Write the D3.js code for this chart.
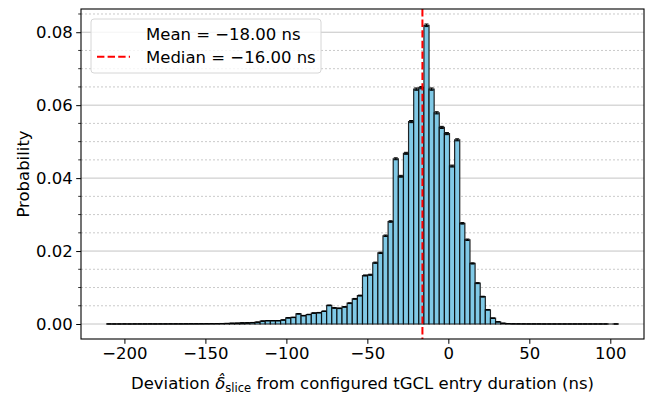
<!DOCTYPE html>
<html>
<head>
<meta charset="utf-8">
<script src="https://cdn.jsdelivr.net/npm/d3@7"></script>
<style>
  body { margin: 0; background: #fff; }
  text { font-family: "DejaVu Sans", sans-serif; fill: #000; }
</style>
</head>
<body>
<script>
// histogram range and bin probabilities (100 bins)
const binLo = -211;
const binHi = 105;
const probs = [
  0.00002, 0.00001, 0.00001, 0.00002, 0.00001, 0.00002, 0.00002, 0.00002, 0.00003, 0.00002,
  0.00003, 0.00003, 0.00004, 0.00004, 0.00004, 0.00005, 0.00006, 0.00006, 0.00007, 0.00008,
  0.00009, 0.00010, 0.00012, 0.00015, 0.00020, 0.00022, 0.00030, 0.00033, 0.00040, 0.00050,
  0.00080, 0.00090, 0.00090, 0.00090, 0.00110, 0.00170, 0.00180, 0.00280, 0.00230, 0.00260,
  0.00300, 0.00310, 0.00350, 0.00510, 0.00440, 0.00430, 0.00470, 0.00570, 0.00690, 0.00780,
  0.01330, 0.01350, 0.01680, 0.01950, 0.02420, 0.02810, 0.04530, 0.04050, 0.04680, 0.05550,
  0.06440, 0.06480, 0.08190, 0.06440, 0.05790, 0.05390, 0.05220, 0.04330, 0.05050, 0.02760,
  0.02310, 0.01660, 0.01120, 0.00750, 0.00390, 0.00160, 0.00060, 0.00020, 0.00010, 0.00005,
  0.00004, 0.00003, 0.00002, 0.00002, 0.00002, 0.00001, 0.00001, 0.00001, 0.00001, 0.00001,
  0.00001, 0.00001, 0.00001, 0.00001, 0.00001, 0.00001, 0.00001, 0.00001, 0.00000, 0.00001
];
const nEvents = 600000; // for binomial error bars
const meanVal = -18;
const medianVal = -16;
const xTicks = [-200, -150, -100, -50, 0, 50, 100];
const yTicks = [0, 0.02, 0.04, 0.06, 0.08];
const yMinorTicks = [0.005, 0.01, 0.015, 0.025, 0.03, 0.035, 0.045, 0.05, 0.055, 0.065, 0.07, 0.075, 0.085];
const legendLabels = ["Mean = \u221218.00 ns", "Median = \u221216.00 ns"];

const W = 649, H = 394;
const mL = 81, mR = 644, mT = 9, mB = 339;
const fs = 16.5;

const svg = d3.select("body").append("svg")
  .attr("width", W).attr("height", H);

const nB = probs.length;
const bw = (binHi - binLo) / nB;
const bins = probs.map((p, i) => ({ x0: binLo + i * bw, x1: binLo + (i + 1) * bw, p: p,
  err: Math.sqrt(p * (1 - p) / nEvents) }));

const pad = (binHi - binLo) * 0.05;
const xScale = d3.scaleLinear().domain([binLo - pad, binHi + pad]).range([mL, mR]);
const yMax = d3.max(bins, d => d.p + d.err);
const yScale = d3.scaleLinear().domain([-yMax * 0.05, yMax * 1.05]).range([mB, mT]);

// grid
svg.append("g").selectAll("line").data(yMinorTicks).enter().append("line")
  .attr("x1", mL).attr("x2", mR)
  .attr("y1", d => yScale(d)).attr("y2", d => yScale(d))
  .attr("stroke", "#c4c4c4").attr("stroke-width", 0.9).attr("stroke-dasharray", "2,2");
svg.append("g").selectAll("line").data(yTicks).enter().append("line")
  .attr("x1", mL).attr("x2", mR)
  .attr("y1", d => yScale(d)).attr("y2", d => yScale(d))
  .attr("stroke", "#c4c4c4").attr("stroke-width", 1);

// bars (paths so empty bins still show their edge)
const y0 = yScale(0);
svg.append("g").selectAll("path").data(bins).enter().append("path")
  .attr("d", d => {
    const a = xScale(d.x0), b = xScale(d.x1), t = yScale(d.p);
    return "M" + a + "," + y0 + "V" + t + "H" + b + "V" + y0 + "Z";
  })
  .attr("fill", "#80c9e6")
  .attr("stroke", "#000").attr("stroke-opacity", 0.85).attr("stroke-width", 1.2);

// error bars
const eb = svg.append("g").attr("stroke", "#000").attr("stroke-width", 1);
bins.filter(d => d.p > 0).forEach(d => {
  const cx = xScale((d.x0 + d.x1) / 2);
  const ya = yScale(d.p - d.err), yb = yScale(d.p + d.err);
  eb.append("line").attr("x1", cx).attr("x2", cx).attr("y1", ya).attr("y2", yb);
  eb.append("line").attr("x1", cx - 2).attr("x2", cx + 2).attr("y1", ya).attr("y2", ya);
  eb.append("line").attr("x1", cx - 2).attr("x2", cx + 2).attr("y1", yb).attr("y2", yb);
});

// median line
svg.append("line")
  .attr("x1", xScale(medianVal)).attr("x2", xScale(medianVal))
  .attr("y1", mT).attr("y2", mB)
  .attr("stroke", "red").attr("stroke-width", 2).attr("stroke-dasharray", "7.4,3.2");

// axes
const xAxis = d3.axisBottom(xScale).tickValues(xTicks).tickSizeOuter(0).tickSize(4.8).tickPadding(3.5)
  .tickFormat(d => d < 0 ? "\u2212" + Math.abs(d) : String(d));
const gx = svg.append("g").attr("transform", "translate(0," + mB + ")").call(xAxis);
gx.select(".domain").remove();
gx.selectAll("text").attr("font-size", fs).attr("font-family", "DejaVu Sans");

const yAxis = d3.axisLeft(yScale).tickValues(yTicks).tickSizeOuter(0).tickSize(4.8).tickPadding(3.5)
  .tickFormat(d3.format(".2f"));
const gy = svg.append("g").attr("transform", "translate(" + mL + ",0)").call(yAxis);
gy.select(".domain").remove();
gy.selectAll("text").attr("font-size", fs).attr("font-family", "DejaVu Sans");

svg.append("g").selectAll("line").data(yMinorTicks).enter().append("line")
  .attr("x1", mL - 2.8).attr("x2", mL)
  .attr("y1", d => yScale(d)).attr("y2", d => yScale(d))
  .attr("stroke", "#000").attr("stroke-width", 0.8);

// frame
svg.append("rect").attr("x", mL).attr("y", mT)
  .attr("width", mR - mL).attr("height", mB - mT)
  .attr("fill", "none").attr("stroke", "#000").attr("stroke-width", 1.1);

// axis labels
svg.append("text").attr("transform", "translate(23," + (mT + mB) / 2 + ") rotate(-90)")
  .attr("text-anchor", "middle").attr("dominant-baseline", "central")
  .attr("font-size", fs).text("Probability");

const xl = svg.append("text").attr("x", (mL + mR) / 2).attr("y", 389)
  .attr("text-anchor", "middle").attr("font-size", fs);
xl.append("tspan").text("Deviation ");
xl.append("tspan").attr("font-style", "italic").text("\u03b4\u0302");
xl.append("tspan").attr("font-size", fs * 0.7).attr("dy", 3).text("slice");
xl.append("tspan").attr("dy", -3).text(" from configured tGCL entry duration (ns)");

// legend
const lg = svg.append("g");
lg.append("rect").attr("x", 91).attr("y", 19).attr("width", 230).attr("height", 54)
  .attr("rx", 3).attr("fill", "#fff").attr("fill-opacity", 0.8)
  .attr("stroke", "#d6d6d6").attr("stroke-width", 1);
lg.selectAll("text").data(legendLabels).enter().append("text")
  .attr("x", 146).attr("y", (d, i) => 39.5 + i * 23.4)
  .attr("font-size", fs).text(d => d);
lg.append("line").attr("x1", 97).attr("x2", 130).attr("y1", 56.7).attr("y2", 56.7)
  .attr("stroke", "red").attr("stroke-width", 2).attr("stroke-dasharray", "7.4,3.2");
</script>
</body>
</html>
